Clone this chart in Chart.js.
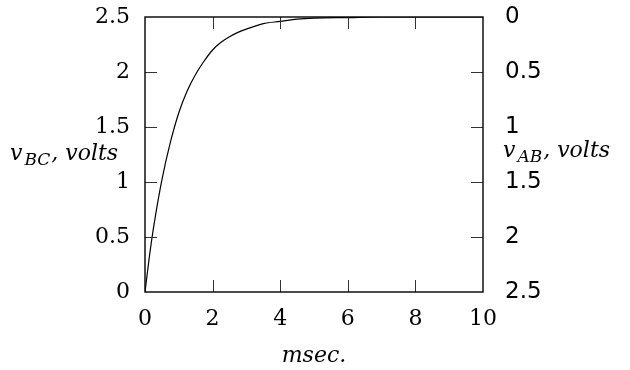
<!DOCTYPE html>
<html>
<head>
<meta charset="utf-8">
<script src="https://cdn.jsdelivr.net/npm/chart.js@4/dist/chart.umd.min.js"></script>
<style>
  html, body { margin: 0; padding: 0; background: #fff; }
  canvas { display: block; }
</style>
</head>
<body>
<canvas id="c" width="630" height="370"></canvas>
<script>
// Capacitor charging: voltage across BC (left axis) and across AB (right axis, reversed)
const timeMs = [0, 0.125, 0.25, 0.5, 0.75, 1.0, 1.25, 1.5, 1.75, 2.0, 2.25, 2.5, 2.75, 3.0,
                3.5, 4.0, 4.5, 5.0, 6.0, 7.0, 8.0, 9.0, 10.0];
const vBC = [0, 0.31, 0.58, 1.02, 1.36, 1.63, 1.83, 1.98, 2.10, 2.20, 2.27, 2.32, 2.36, 2.39,
             2.44, 2.46, 2.48, 2.49, 2.495, 2.5, 2.5, 2.5, 2.5];
const xTicks = [0, 2, 4, 6, 8, 10];
const yTicks = [0, 0.5, 1, 1.5, 2, 2.5];

const SERIF = '"DejaVu Serif", serif';
const SANS = '"DejaVu Sans", sans-serif';
const TICK_LEN = 12;

// Inward ticks on all four sides, the frame, and the horizontal axis titles
const framePlugin = {
  id: 'frame',
  afterDraw(chart) {
    const { ctx, chartArea: a, scales } = chart;
    const x = scales.x, y = scales.y, y2 = scales.y2;
    ctx.save();
    ctx.strokeStyle = '#333';
    ctx.lineWidth = 1;
    ctx.beginPath();
    xTicks.slice(1, -1).forEach(v => {
      const px = Math.round(x.getPixelForValue(v)) + 0.5;
      ctx.moveTo(px, a.bottom); ctx.lineTo(px, a.bottom - TICK_LEN);
      ctx.moveTo(px, a.top); ctx.lineTo(px, a.top + TICK_LEN);
    });
    yTicks.slice(1, -1).forEach(v => {
      const py = Math.round(y.getPixelForValue(v)) + 0.5;
      ctx.moveTo(a.left, py); ctx.lineTo(a.left + TICK_LEN, py);
      const py2 = Math.round(y2.getPixelForValue(v)) + 0.5;
      ctx.moveTo(a.right, py2); ctx.lineTo(a.right - TICK_LEN, py2);
    });
    ctx.stroke();

    ctx.strokeStyle = '#000';
    ctx.lineWidth = 1.4;
    ctx.strokeRect(a.left, a.top, a.right - a.left, a.bottom - a.top);

    // axis titles: symbol, subscript, unit
    ctx.fillStyle = '#000';
    ctx.textBaseline = 'alphabetic';
    ctx.textAlign = 'left';
    const main = 'italic 22px ' + SERIF;
    const sub = 'italic 17px ' + SERIF;
    const drawParts = (parts, x0, base) => {
      let cx = x0;
      parts.forEach(p => {
        ctx.font = p.font;
        ctx.fillText(p.t, cx, base + (p.dy || 0));
        cx += ctx.measureText(p.t).width + (p.gap || 0);
      });
    };
    drawParts([
      { t: 'v', font: main, gap: 2 },
      { t: 'BC', font: sub, dy: 5, gap: 1 },
      { t: ', volts', font: main }
    ], 10, 160);
    drawParts([
      { t: 'v', font: main, gap: 2 },
      { t: 'AB', font: sub, dy: 5, gap: 1 },
      { t: ', volts', font: main }
    ], 503, 157);
    ctx.font = main;
    ctx.textAlign = 'center';
    ctx.fillText('msec.', (a.left + a.right) / 2, 362);
    ctx.restore();
  }
};

const plain = v => String(v);

new Chart(document.getElementById('c'), {
  type: 'line',
  data: {
    datasets: [{
      data: timeMs.map((t, i) => ({ x: t, y: vBC[i] })),
      borderColor: '#000',
      borderWidth: 1.2,
      pointRadius: 0,
      cubicInterpolationMode: 'monotone',
      fill: false,
      yAxisID: 'y'
    }]
  },
  options: {
    responsive: false,
    animation: false,
    events: [],
    layout: { padding: { top: 17, left: 0, right: 0, bottom: 0 } },
    plugins: { legend: { display: false }, tooltip: { enabled: false } },
    scales: {
      x: {
        type: 'linear', min: 0, max: 10,
        afterBuildTicks: s => { s.ticks = xTicks.map(v => ({ value: v })); },
        afterFit: s => { s.height = 78; s.paddingLeft = 0; s.paddingRight = 0; },
        grid: { display: false, drawTicks: false },
        border: { display: false },
        ticks: { color: '#000', font: { family: SERIF, size: 22 }, padding: 14, maxRotation: 0, callback: plain }
      },
      y: {
        type: 'linear', position: 'left', min: 0, max: 2.5,
        afterBuildTicks: s => { s.ticks = yTicks.map(v => ({ value: v })); },
        afterFit: s => { s.width = 145; s.paddingTop = 0; s.paddingBottom = 0; },
        grid: { display: false, drawTicks: false },
        border: { display: false },
        ticks: { color: '#000', font: { family: SERIF, size: 22 }, padding: 15, callback: plain }
      },
      y2: {
        type: 'linear', position: 'right', min: 0, max: 2.5, reverse: true,
        afterBuildTicks: s => { s.ticks = yTicks.map(v => ({ value: v })); },
        afterFit: s => { s.width = 147; s.paddingTop = 0; s.paddingBottom = 0; },
        grid: { display: false, drawTicks: false },
        border: { display: false },
        ticks: { color: '#000', font: { family: SANS, size: 23 }, padding: 22, callback: plain }
      }
    }
  },
  plugins: [framePlugin]
});
</script>
</body>
</html>
